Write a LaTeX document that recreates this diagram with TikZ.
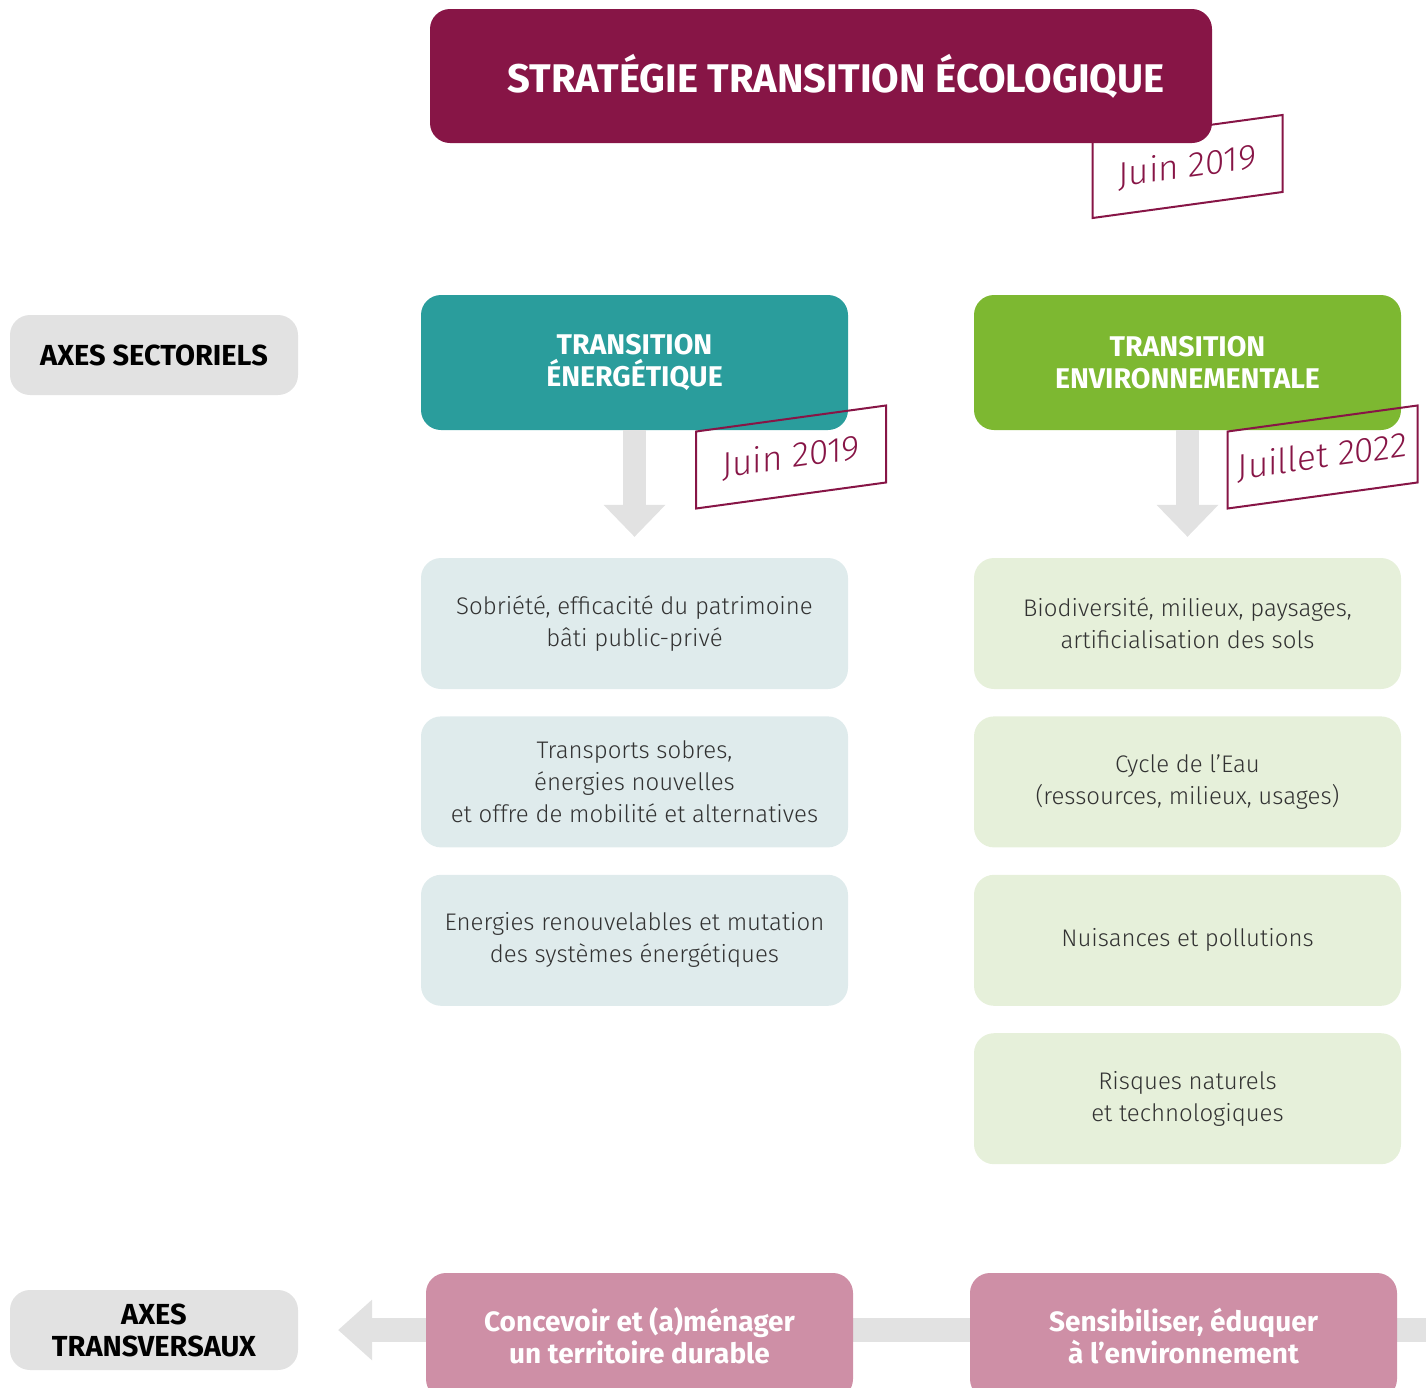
\documentclass[tikz,border=0pt]{standalone}
\usepackage{fontspec}
\setmainfont{Fira Sans}
\newfontfamily\lightfont{Fira Sans Light}
\usetikzlibrary{arrows.meta, positioning}
\definecolor{mywine}{RGB}{135,21,70}
\definecolor{myteal}{RGB}{42,157,156}
\definecolor{mygreen}{RGB}{125,184,49}
\definecolor{mygrey}{RGB}{226,226,226}
\definecolor{mypink}{RGB}{206,143,166}
\definecolor{lteal}{RGB}{223,235,236}
\definecolor{lgreen}{RGB}{230,240,218}
\definecolor{mytext}{RGB}{50,50,50}
\tikzset{
  titlebox/.style={rectangle, fill=mywine, text=white, rounded corners=20pt,
    minimum width=782pt, minimum height=134pt, inner sep=0pt,
    font=\fontsize{40}{44}\selectfont\bfseries},
  axebox/.style={rectangle, fill=mygrey, text=black, rounded corners=20pt,
    minimum width=288pt, minimum height=80pt, inner sep=0pt, align=center,
    font=\fontsize{29}{32}\selectfont\bfseries},
  themebox/.style={rectangle, text=white, rounded corners=20pt,
    minimum width=427pt, minimum height=135pt, inner sep=0pt, align=center,
    font=\fontsize{28.5}{32}\selectfont\bfseries},
  itembox/.style={rectangle, text=mytext, rounded corners=20pt,
    minimum width=427pt, minimum height=131pt, inner sep=0pt, align=center,
    font=\fontsize{24}{32}\selectfont\lightfont},
  pinkbox/.style={rectangle, fill=mypink, text=white, rounded corners=20pt,
    minimum width=427pt, minimum height=126pt, inner sep=0pt, align=center,
    font=\fontsize{28}{32}\selectfont\bfseries},
  stamp/.style={rectangle, draw=mywine, line width=2pt, text=mywine,
    yslant=0.137, minimum width=190pt, minimum height=77pt, inner sep=0pt,
    font=\fontsize{35}{38}\selectfont\lightfont},
  bigarrow/.style={draw=mygrey, line width=23pt,
    -{Triangle[length=32pt, width=62pt, line width=0pt]}}
}
\begin{document}
\begin{tikzpicture}[x=1pt, y=-1pt, node distance=27pt]
  \useasboundingbox (0,0) rectangle (1426,1387);
  \clip (0,0) rectangle (1426,1387);

  % top
  \node[titlebox] (strat) at (821,76) {\hspace*{30pt}STRATÉGIE TRANSITION ÉCOLOGIQUE};

  % sector axes
  \node[axebox] (sect) at (154,355) {AXES SECTORIELS};
  \node[themebox, fill=myteal] (ener) at (634.5,362.5) {TRANSITION\\ÉNERGÉTIQUE};
  \node[themebox, fill=mygreen] (envi) at (1187.5,362.5) {TRANSITION\\ENVIRONNEMENTALE};

  \node[itembox, fill=lteal] (e1) at (634.5,623.5) {Sobriété, efficacité du patrimoine\\bâti public-privé};
  \node[itembox, fill=lteal, below=of e1] (e2) {Transports sobres,\\énergies nouvelles\\et offre de mobilité et alternatives};
  \node[itembox, fill=lteal, below=of e2] (e3) {Energies renouvelables et mutation\\des systèmes énergétiques};

  \node[itembox, fill=lgreen] (v1) at (1187.5,623.5) {Biodiversité, milieux, paysages,\\artificialisation des sols};
  \node[itembox, fill=lgreen, below=of v1] (v2) {Cycle de l’Eau\\(ressources, milieux, usages)};
  \node[itembox, fill=lgreen, below=of v2] (v3) {Nuisances et pollutions};
  \node[itembox, fill=lgreen, below=of v3] (v4) {Risques naturels\\et technologiques};

  \draw[bigarrow, shorten >=21pt] (ener.south) -- (e1.north);
  \draw[bigarrow, shorten >=21pt] (envi.south) -- (v1.north);

  % transverse axes
  \node[axebox] (trans) at (154,1330) {AXES\\TRANSVERSAUX};
  \coordinate (bandend) at (1440,1330);
  \draw[bigarrow, line width=24pt, -{Triangle[length=34pt, width=61pt, line width=0pt]}, shorten >=40pt] (bandend) -- (trans.east);
  \node[pinkbox] (c1) at (639.5,1336) {Concevoir et (a)ménager\\un territoire durable};
  \node[pinkbox] (c2) at (1183.5,1336) {Sensibiliser, éduquer\\à l’environnement};

  % dates
  \node[stamp] (d0) at (1187.5,166.5) {Juin 2019};
  \node[stamp] (d1) at (791,457) {Juin 2019};
  \node[stamp] (d2) at (1322.5,457) {Juillet 2022};
\end{tikzpicture}
\end{document}
